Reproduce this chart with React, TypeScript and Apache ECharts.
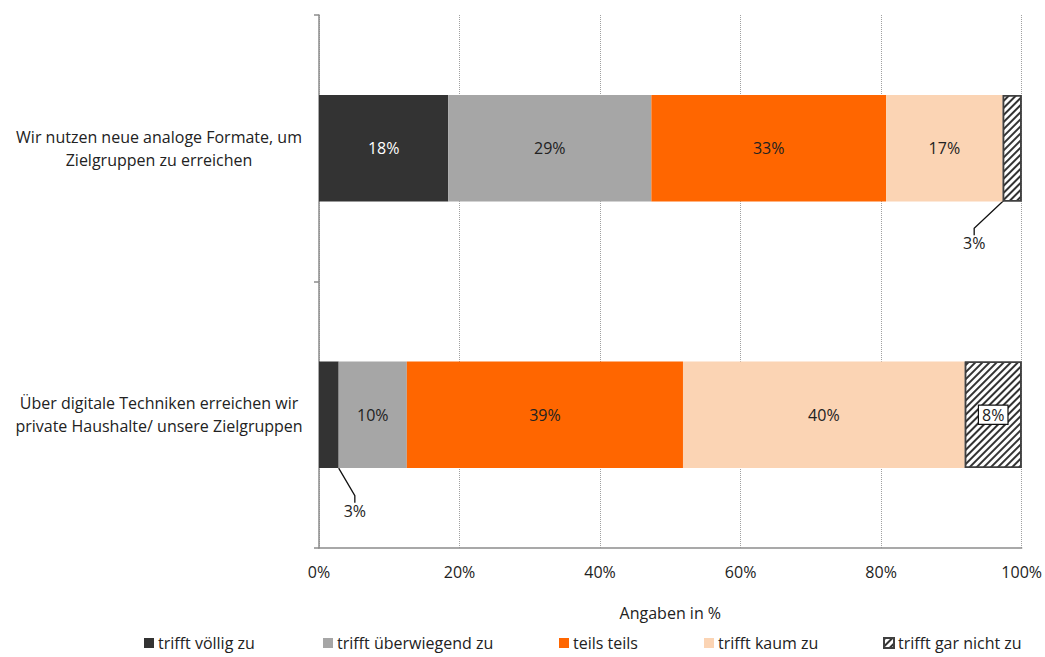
import React, { useEffect, useRef } from "react";
import * as echarts from "echarts";

const categories = [
  "Wir nutzen neue analoge Formate, um\nZielgruppen zu erreichen",
  "Über digitale Techniken erreichen wir\nprivate Haushalte/ unsere Zielgruppen",
];
const seriesNames = [
  "trifft völlig zu",
  "trifft überwiegend zu",
  "teils teils",
  "trifft kaum zu",
  "trifft gar nicht zu",
];
const trifftVoelligZu = [18.4, 2.8];
const trifftUeberwiegendZu = [28.9, 9.7];
const teilsTeils = [33.4, 39.3];
const trifftKaumZu = [16.6, 40.1];
const trifftGarNichtZu = [2.7, 8.1];
const xTicks = [0, 20, 40, 60, 80, 100];
const legendLefts = [144, 323, 559, 704, 883];

const FONT = "Open Sans";
const FS = 16;

export default function App() {
  const ref = useRef<HTMLDivElement>(null);
  useEffect(() => {
    if (!ref.current) return;
    const chart = echarts.init(ref.current, null, { renderer: "svg" });
    const fmt = (p: any) => Math.round(p.value) + "%";
    const baseLabel = {
      show: true,
      position: "inside",
      formatter: fmt,
      color: "#222",
      fontSize: FS,
      fontFamily: FONT,
    };
    const values = [trifftVoelligZu, trifftUeberwiegendZu, teilsTeils, trifftKaumZu, trifftGarNichtZu];
    const colors = ["#333333", "#a6a6a6", "#ff6600", "#fbd4b4", "#ffffff"];
    const series: any[] = values.map((vals, i) => ({
      name: seriesNames[i],
      type: "bar",
      stack: "total",
      barWidth: "40%",
      data: vals,
      itemStyle: { color: colors[i] },
      label: { ...baseLabel },
    }));
    series[0].label = { ...baseLabel, color: "#fff" };
    series[0].data = trifftVoelligZu.map((v, idx) =>
      idx === 1 ? { value: v, label: { color: "#222" } } : v
    );
    series[0].labelLine = { show: true, length2: 7, lineStyle: { color: "#111", width: 1.3 } };
    series[0].labelLayout = (p: any) => (p.dataIndex === 1 ? { dx: 26, dy: 96 } : {});
    series[4].itemStyle = {
      color: "#ffffff",
      borderColor: "#404040",
      borderWidth: 1.5,
      decal: {
        symbol: "rect",
        symbolSize: 1,
        color: "#333333",
        backgroundColor: "#ffffff",
        dashArrayX: [1, 0],
        dashArrayY: [2, 3],
        rotation: -Math.PI / 4,
      },
    };
    series[4].data = trifftGarNichtZu.map((v, idx) =>
      idx === 1
        ? {
            value: v,
            label: {
              backgroundColor: "#ffffff",
              borderColor: "#111",
              borderWidth: 1.2,
              padding: [2, 3, 0, 3],
            },
          }
        : v
    );
    series[4].labelLine = { show: true, length2: 7, lineStyle: { color: "#111", width: 1.3 } };
    series[4].labelLayout = (p: any) => (p.dataIndex === 0 ? { dx: -38, dy: 95 } : {});

    const legends = seriesNames.map((n, i) => ({
      data: [n],
      top: 635,
      left: legendLefts[i],
      padding: 0,
      itemWidth: 10,
      itemHeight: 10,
      itemGap: 4,
      icon: "rect",
      textStyle: { fontSize: FS, color: "#222", fontFamily: FONT, padding: [0, 0, 0, -1] },
    }));

    chart.setOption({
      animation: false,
      textStyle: { fontFamily: FONT },
      grid: { left: 319, right: 23, top: 15, bottom: 109, containLabel: false },
      legend: legends,
      xAxis: {
        type: "value",
        min: 0,
        max: 100,
        interval: 20,
        name: "Angaben in %",
        nameLocation: "middle",
        nameGap: 57,
        nameTextStyle: { fontSize: FS, color: "#222", fontFamily: FONT },
        axisLine: { show: true, lineStyle: { color: "#8c8c8c", width: 1.5 } },
        axisTick: { show: false },
        axisLabel: {
          formatter: (v: number) => (xTicks.includes(v) ? v + "%" : ""),
          fontSize: FS,
          color: "#222",
          margin: 16,
          fontFamily: FONT,
        },
        splitLine: { show: true, lineStyle: { color: "#a0a0a0", type: "dotted", width: 1 } },
      },
      yAxis: {
        type: "category",
        data: categories,
        inverse: true,
        axisLine: { show: true, lineStyle: { color: "#8c8c8c", width: 1.5 } },
        axisTick: { show: true, length: 5, lineStyle: { color: "#8c8c8c", width: 1.5 } },
        axisLabel: {
          align: "center",
          margin: 160,
          fontSize: FS,
          lineHeight: 23,
          color: "#222",
          fontFamily: FONT,
        },
        splitLine: { show: false },
      },
      series,
    });
    return () => chart.dispose();
  }, []);
  return (
    <div
      ref={ref}
      style={{ position: "absolute", left: 0, top: 0, width: 1045, height: 657, overflow: "hidden" }}
    />
  );
}
